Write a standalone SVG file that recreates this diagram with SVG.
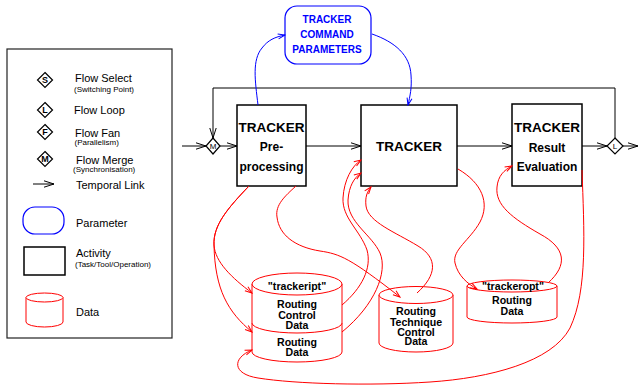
<svg xmlns="http://www.w3.org/2000/svg" width="638" height="390" viewBox="0 0 638 390">
  <style>
    .box { fill: #fff; stroke: #000; stroke-width: 1.5; }
    .legend-frame { fill: #fff; stroke: #222; stroke-width: 1.2; }
    .param { fill: #fff; stroke: #0000ff; stroke-width: 1.2; }
    .data { fill: #fff; stroke: #ff0000; stroke-width: 1; }
    .flow { fill: none; stroke: #000; stroke-width: 1; }
    .red { fill: none; stroke: #ff0000; stroke-width: 1; }
    .blue { fill: none; stroke: #0000ff; stroke-width: 1; }
    .diamond { fill: #fff; stroke: #000; stroke-width: 1.2; }
    text { font-family: "Liberation Sans", Arial, sans-serif; fill: #000; }
    .lg { font-size: 11px; }
    .lg-sub { font-size: 8px; }
    .glyph { font-size: 9px; text-anchor: middle; font-weight: bold; }
    .act { font-size: 13.5px; font-weight: bold; text-anchor: middle; }
    .act-sub { font-size: 12px; font-weight: bold; text-anchor: middle; }
    .dat { font-size: 10.6px; font-weight: bold; text-anchor: middle; }
    .par { font-size: 10px; font-weight: bold; text-anchor: middle; fill: #0000ff; }
  </style>
  <defs>
    <marker id="ah-black" markerUnits="userSpaceOnUse" markerWidth="12" markerHeight="8" refX="11" refY="4" orient="auto">
      <path d="M1,0.8 L11,4 L1,7.2" fill="none" stroke="#000" stroke-width="1"/>
    </marker>
    <marker id="ah-red" markerUnits="userSpaceOnUse" markerWidth="9" markerHeight="7" refX="8" refY="3.5" orient="auto">
      <path d="M1,1 L8,3.5 L1,6" fill="none" stroke="#ff0000" stroke-width="1"/>
    </marker>
    <marker id="ah-blue" markerUnits="userSpaceOnUse" markerWidth="9" markerHeight="7" refX="8" refY="3.5" orient="auto">
      <path d="M1,1 L8,3.5 L1,6" fill="none" stroke="#0000ff" stroke-width="1"/>
    </marker>
  </defs>

  <!-- Legend -->
  <g id="legend">
    <rect class="legend-frame" x="7" y="49" width="165" height="289"/>
    <g id="legend-select">
      <path class="diamond" d="M45,72.5 L52.5,80 L45,87.5 L37.5,80 Z"/>
      <text class="glyph" x="45" y="83.2">S</text>
      <text class="lg" x="75" y="82">Flow Select</text>
      <text class="lg-sub" x="74" y="92">(Switching Point)</text>
    </g>
    <g id="legend-loop">
      <path class="diamond" d="M45,102.5 L52.5,110 L45,117.5 L37.5,110 Z"/>
      <text class="glyph" x="45" y="113.2">L</text>
      <text class="lg" x="74" y="113.5">Flow Loop</text>
    </g>
    <g id="legend-fan">
      <path class="diamond" d="M45,124.5 L52.5,132 L45,139.5 L37.5,132 Z"/>
      <text class="glyph" x="45" y="135.2">F</text>
      <text class="lg" x="75" y="136.5">Flow Fan</text>
      <text class="lg-sub" x="74.5" y="145">(Parallelism)</text>
    </g>
    <g id="legend-merge">
      <path class="diamond" d="M45,151.5 L52.5,159 L45,166.5 L37.5,159 Z"/>
      <text class="glyph" x="45" y="162.2">M</text>
      <text class="lg" x="76" y="163.5">Flow Merge</text>
      <text class="lg-sub" x="73" y="172">(Synchronisation)</text>
    </g>
    <g id="legend-link">
      <line class="flow" x1="33" y1="184" x2="54" y2="184" marker-end="url(#ah-black)"/>
      <text class="lg" x="76" y="188.5">Temporal Link</text>
    </g>
    <g id="legend-parameter">
      <rect class="param" x="23" y="207" width="41" height="27" rx="12"/>
      <text class="lg" x="76" y="227">Parameter</text>
    </g>
    <g id="legend-activity">
      <rect class="box" x="24" y="247" width="41" height="28"/>
      <text class="lg" x="76" y="257">Activity</text>
      <text class="lg-sub" x="75" y="267">(Task/Tool/Operation)</text>
    </g>
    <g id="legend-data">
      <path class="data" d="M26,297.5 L26,322 A18.5,5 0 0 0 63,322 L63,297.5"/>
      <ellipse class="data" cx="44.5" cy="297.5" rx="18.5" ry="4.5"/>
      <text class="lg" x="76" y="316">Data</text>
    </g>
  </g>

  <!-- Parameter node -->
  <g id="tracker-command-parameters">
    <rect class="param" x="285" y="6" width="86" height="58" rx="12"/>
    <text class="par" x="327" y="22.5">TRACKER</text>
    <text class="par" x="327" y="37.5">COMMAND</text>
    <text class="par" x="327" y="52.5">PARAMETERS</text>
  </g>

  <!-- Activities -->
  <g id="tracker-preprocessing">
    <rect class="box" x="237" y="105" width="69" height="81"/>
    <text class="act" x="271.5" y="132">TRACKER</text>
    <text class="act-sub" x="271.5" y="151">Pre-</text>
    <text class="act-sub" x="271.5" y="170.5">processing</text>
  </g>
  <g id="tracker">
    <rect class="box" x="361" y="105" width="96" height="81"/>
    <text class="act" x="409" y="151">TRACKER</text>
  </g>
  <g id="tracker-result-evaluation">
    <rect class="box" x="512" y="104" width="70" height="82"/>
    <text class="act" x="547" y="132">TRACKER</text>
    <text class="act-sub" x="547" y="151.5">Result</text>
    <text class="act-sub" x="547" y="171">Evaluation</text>
  </g>

  <!-- Flow control points -->
  <g id="merge">
    <path class="diamond" d="M213,138 L220,146 L213,154 L206,146 Z"/>
    <text class="glyph" x="213" y="149.2" style="font-weight:normal;font-size:8px">M</text>
  </g>
  <g id="loop">
    <path class="diamond" d="M615,138 L623,146 L615,154 L607,146 Z"/>
    <text class="glyph" x="615" y="149.2" style="font-weight:normal;font-size:8px">L</text>
  </g>

  <!-- Data stores -->
  <g id="trackeript">
    <path class="data" d="M252,284 L252,352 A45,10 0 0 0 342,352 L342,284"/>
    <path class="data" d="M252,323 A45,10 0 0 0 342,323" fill="none"/>
    <ellipse class="data" cx="297" cy="284" rx="45" ry="11"/>
    <text class="dat" x="297" y="290">"trackeript"</text>
    <text class="dat" x="297" y="307.5">Routing</text>
    <text class="dat" x="297" y="318.5">Control</text>
    <text class="dat" x="297" y="328.5">Data</text>
    <text class="dat" x="297" y="345.5">Routing</text>
    <text class="dat" x="297" y="356">Data</text>
  </g>
  <g id="routing-technique-control-data">
    <path class="data" d="M379,295 L379,343 A37,9 0 0 0 453,343 L453,295"/>
    <ellipse class="data" cx="416" cy="295" rx="37" ry="8.5"/>
    <text class="dat" x="416" y="315">Routing</text>
    <text class="dat" x="416" y="326">Technique</text>
    <text class="dat" x="416" y="336">Control</text>
    <text class="dat" x="416" y="345">Data</text>
  </g>
  <g id="trackeropt">
    <path class="data" d="M467,286 L467,317 A45,6 0 0 0 557,317 L557,286"/>
    <ellipse class="data" cx="512" cy="286" rx="45" ry="6"/>
    <text class="dat" x="513" y="290">"trackeropt"</text>
    <text class="dat" x="512" y="304">Routing</text>
    <text class="dat" x="512" y="315">Data</text>
  </g>

  <!-- Connectors -->
  <g id="connectors">
    <!-- temporal links -->
    <line class="flow" x1="182" y1="146" x2="206" y2="146" marker-end="url(#ah-black)"/>
    <line class="flow" x1="220" y1="146" x2="237" y2="146" marker-end="url(#ah-black)"/>
    <line class="flow" x1="306" y1="146" x2="361" y2="146" marker-end="url(#ah-black)"/>
    <line class="flow" x1="457" y1="146" x2="512" y2="146" marker-end="url(#ah-black)"/>
    <line class="flow" x1="582" y1="146" x2="607" y2="146" marker-end="url(#ah-black)"/>
    <line class="flow" x1="623" y1="146" x2="638" y2="146" marker-end="url(#ah-black)"/>
    <polyline class="flow" points="615,138 615,88 213,88 213,138" marker-end="url(#ah-black)"/>

    <!-- parameter links -->
    <path class="blue" d="M258,105 C255,80 252,60 262,48 C268,40 275,37 285,35" marker-end="url(#ah-blue)"/>
    <path class="blue" d="M372,34 C395,42 410,55 411,75 C412,88 410,96 408,105" marker-end="url(#ah-blue)"/>

    <!-- data links -->
    <path class="red" d="M249,186 C228,208 213,225 214,245 C215,262 232,278 252,293" marker-end="url(#ah-red)"/>
    <path class="red" d="M249,186 C228,208 213,225 214,245 C215,290 228,312 252,332" marker-end="url(#ah-red)"/>
    <path class="red" d="M296,186 C285,196 275,205 277,217 C279,235 295,247 320,251 C340,254 350,258 400,297" marker-end="url(#ah-red)"/>
    <path class="red" d="M342,305 C362,288 372,268 367,250 C360,230 342,218 343,198 C344,180 352,166 361,160" marker-end="url(#ah-red)"/>
    <path class="red" d="M342,332 C375,305 388,272 380,253 C372,235 347,222 348,200 C349,186 354,178 361,173" marker-end="url(#ah-red)"/>
    <path class="red" d="M417,293 C437,275 438,258 418,246 C395,232 368,222 366,206 C365,197 367,192 371,187" marker-end="url(#ah-red)"/>
    <path class="red" d="M458,169 C482,183 490,203 480,222 C470,240 452,250 455,263 C458,276 468,284 477,289" marker-end="url(#ah-red)"/>
    <path class="red" d="M548,283 C568,265 566,248 540,234 C512,218 495,205 497,187 C498,176 504,170 512,166" marker-end="url(#ah-red)"/>
    <path class="red" d="M582,170 C584,230 588,290 570,328 C552,362 490,378 430,382 C370,386 295,384 258,378 C232,374 232,358 252,350" marker-end="url(#ah-red)"/>
  </g>
</svg>
